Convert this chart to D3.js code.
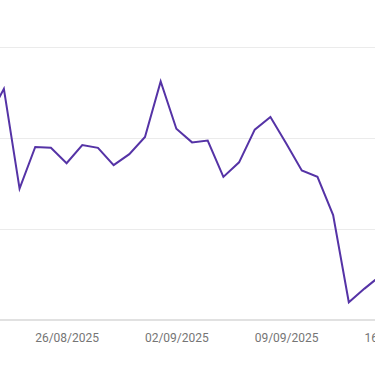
<!DOCTYPE html>
<html>
<head>
<meta charset="utf-8">
<script src="https://cdn.jsdelivr.net/npm/d3@7/dist/d3.min.js"></script>
<style>
  html, body { margin: 0; padding: 0; background: #ffffff; }
  svg { display: block; }
</style>
</head>
<body>
<div id="chart"></div>
<script>
// ---- data ----
const dates = [
  "21/08/2025","22/08/2025","23/08/2025","24/08/2025","25/08/2025","26/08/2025",
  "27/08/2025","28/08/2025","29/08/2025","30/08/2025","31/08/2025","01/09/2025",
  "02/09/2025","03/09/2025","04/09/2025","05/09/2025","06/09/2025","07/09/2025",
  "08/09/2025","09/09/2025","10/09/2025","11/09/2025","12/09/2025","13/09/2025",
  "14/09/2025","15/09/2025"
];
const values = [
  221, 254, 144, 190, 189, 172,
  192, 189, 170, 182, 201, 262,
  210, 195, 197, 157, 173, 209,
  223, 194, 164, 157, 115, 19,
  34, 48
];
const tickLabels = ["26/08/2025","02/09/2025","09/09/2025","16/09/2025"];
const gridValues = [100, 200, 300];

// ---- layout ----
const W = 375, H = 366;
const parse = d3.timeParse("%d/%m/%Y");
const fmt = d3.timeFormat("%d/%m/%Y");
const data = dates.map((d, i) => ({ date: parse(d), value: values[i] }));

const x = d3.scaleTime()
  .domain([parse("26/08/2025"), parse("09/09/2025")])
  .range([66.6, 286.1]);
const y = d3.scaleLinear().domain([0, 300]).range([319.5, 47]);

const svg = d3.select("#chart").append("svg")
  .attr("width", W).attr("height", H);

// gridlines
svg.append("g").selectAll("line").data(gridValues).join("line")
  .attr("x1", 0).attr("x2", W)
  .attr("y1", d => Math.round(y(d)) + 0.5).attr("y2", d => Math.round(y(d)) + 0.5)
  .attr("stroke", "#ebebeb").attr("stroke-width", 1);

// x axis
const xAxis = d3.axisBottom(x)
  .tickValues(tickLabels.map(parse))
  .tickFormat(fmt)
  .tickSize(0)
  .tickPadding(14);
const gx = svg.append("g")
  .attr("transform", `translate(0,${y(0)})`)
  .call(xAxis);
gx.select(".domain").remove();
gx.append("line").attr("x1", 0).attr("x2", W).attr("y1", 0.5).attr("y2", 0.5)
  .attr("stroke", "#c4c4c4").attr("stroke-width", 1.2);
gx.selectAll("text")
  .attr("fill", "#757575")
  .style("font-family", "Roboto, 'Noto Sans', sans-serif")
  .style("font-size", "12px");

// line
const line = d3.line().x(d => x(d.date)).y(d => y(d.value));
svg.append("path").datum(data)
  .attr("d", line)
  .attr("fill", "none")
  .attr("stroke", "#5533a6")
  .attr("stroke-width", 2)
  .attr("stroke-linejoin", "miter");
</script>
</body>
</html>
